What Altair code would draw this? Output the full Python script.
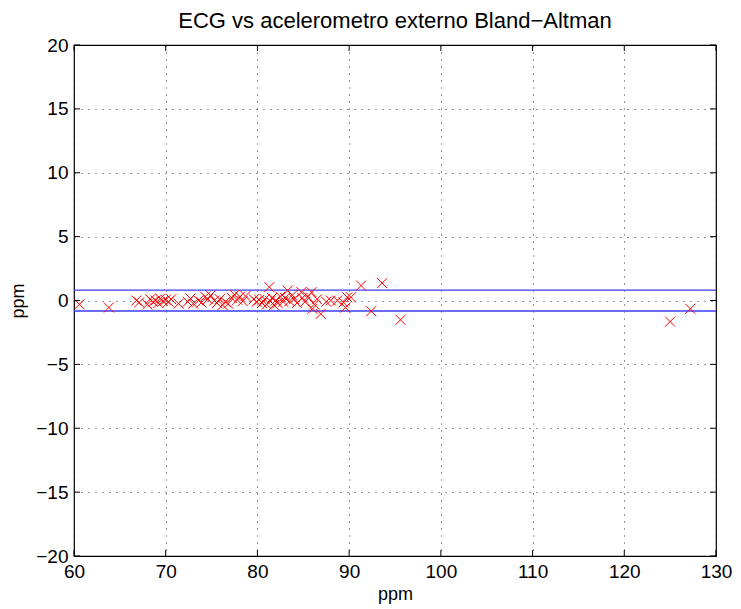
import altair as alt
import pandas as pd

# Bland-Altman points (mean ppm, difference ppm)
mean_ppm = [60.6, 63.8, 66.8, 67.1, 68.0, 68.3, 68.6, 68.9, 69.2, 69.4, 69.7, 70.0, 70.3, 70.6,
            71.4, 72.4, 72.7, 73.0, 73.6, 73.9, 74.3, 74.6, 74.9, 75.3, 75.6, 75.9, 76.2, 76.5,
            76.8, 77.2, 77.5, 77.8, 78.1, 78.4, 78.7, 79.6, 79.9, 80.2, 80.5, 80.8, 81.0, 81.3,
            81.4, 81.6, 81.8, 82.0, 82.2, 82.5, 82.8, 83.0, 83.3, 83.5, 83.8, 84.0, 84.3, 84.8,
            84.9, 85.2, 85.5, 85.9, 86.0, 86.2, 86.5, 86.9, 87.5, 88.0, 88.7, 89.4, 89.6, 89.8,
            90.2, 91.3, 92.4, 93.6, 95.6, 125.0, 127.2]
diff_ppm = [-0.3, -0.55, 0.0, -0.15, -0.3, 0.1, -0.1, 0.0, -0.2, 0.15, -0.05, 0.05, -0.1, 0.1,
            -0.25, -0.1, 0.15, -0.25, 0.0, -0.15, 0.3, 0.1, 0.4, 0.0, -0.2, 0.1, -0.35, -0.1,
            -0.25, 0.2, 0.45, 0.05, 0.3, -0.05, 0.35, 0.1, -0.1, 0.05, -0.2, 0.1, -0.3, 1.05,
            -0.05, 0.2, -0.35, 0.0, -0.2, 0.3, -0.1, 0.2, 0.78, -0.05, 0.4, 0.1, -0.2, 0.65,
            0.2, -0.1, 0.3, 0.65, -0.65, -0.3, 0.1, -1.05, -0.1, 0.0, 0.0, -0.15, -0.55, 0.25,
            0.25, 1.17, -0.84, 1.36, -1.51, -1.65, -0.65]

limits = [0.81, -0.82]
x_ticks = [60, 70, 80, 90, 100, 110, 120, 130]
y_ticks = [-20, -15, -10, -5, 0, 5, 10, 15, 20]

W, H = 642, 511
FONT = "Liberation Sans"

pts = pd.DataFrame({"m": mean_ppm, "d": diff_ppm})
lim = pd.DataFrame({"d": limits})
xt = pd.DataFrame({"m": x_ticks})
yt = pd.DataFrame({"d": y_ticks})

xscale = alt.Scale(domain=[60, 130], nice=False, zero=False)
yscale = alt.Scale(domain=[-20, 20], nice=False, zero=False)

xaxis = alt.Axis(values=x_ticks, title="ppm", ticks=False, domain=False, grid=True,
                 gridColor="#000000", gridDash=[1, 6], gridOpacity=0.8, labelFlush=False,
                 labelFontSize=19, labelPadding=6, titleFontSize=18, titlePadding=4,
                 titleFontWeight="normal", labelColor="black", titleColor="black")
yaxis = alt.Axis(values=y_ticks, title="ppm", ticks=False, domain=False, grid=True,
                 gridColor="#000000", gridDash=[1, 6], gridOpacity=0.8, labelFlush=False,
                 labelFontSize=19, labelPadding=6, titleFontSize=18, titlePadding=8,
                 titleFontWeight="normal", labelColor="black", titleColor="black")

points = alt.Chart(pts).mark_point(
    shape="M-1,-1L1,1M-1,1L1,-1", filled=False, color="#ff0000", strokeWidth=1, size=100,
    opacity=1
).encode(
    x=alt.X("m:Q", scale=xscale, axis=xaxis),
    y=alt.Y("d:Q", scale=yscale, axis=yaxis),
)

lines = alt.Chart(lim).mark_rule(color="#3b3bff", strokeWidth=1.3).encode(
    y=alt.Y("d:Q", scale=yscale),
    x=alt.value(0), x2=alt.value(W),
)

tick_len = 6
xt_bottom = alt.Chart(xt).mark_rule(color="black").encode(
    x=alt.X("m:Q", scale=xscale), y=alt.value(H), y2=alt.value(H - tick_len))
xt_top = alt.Chart(xt).mark_rule(color="black").encode(
    x=alt.X("m:Q", scale=xscale), y=alt.value(0), y2=alt.value(tick_len))
yt_left = alt.Chart(yt).mark_rule(color="black").encode(
    y=alt.Y("d:Q", scale=yscale), x=alt.value(0), x2=alt.value(tick_len))
yt_right = alt.Chart(yt).mark_rule(color="black").encode(
    y=alt.Y("d:Q", scale=yscale), x=alt.value(W), x2=alt.value(W - tick_len))

chart = alt.layer(lines, points, xt_bottom, xt_top, yt_left, yt_right).properties(
    width=W, height=H,
    title=alt.TitleParams("ECG vs acelerometro externo Bland\u2212Altman", fontSize=22,
                          fontWeight="normal", font=FONT, color="black", offset=3),
    autosize=alt.AutoSizeParams(type="none"),
    padding={"left": 66, "top": 37, "right": 17, "bottom": 52},
).configure(font=FONT).configure_view(stroke="black", strokeWidth=1.2).configure_axis(
    labelFont=FONT, titleFont=FONT
)

chart.save("out.html", embed_options={"renderer": "svg", "actions": False})
